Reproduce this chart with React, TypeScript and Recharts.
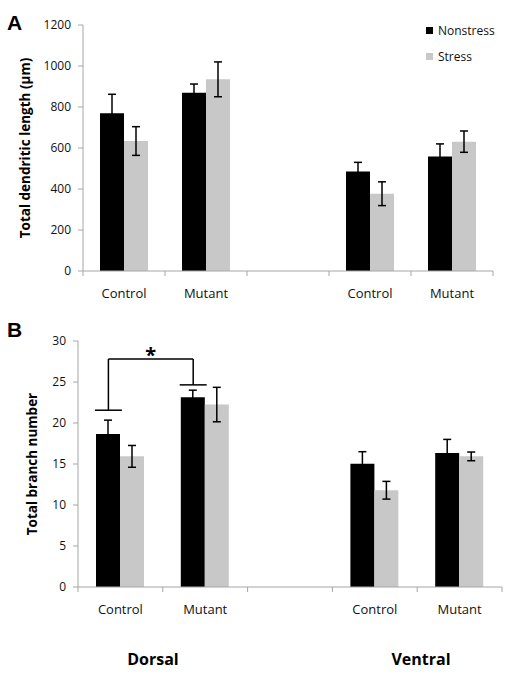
import { BarChart, Bar, XAxis, YAxis, ErrorBar, Legend, ReferenceLine } from 'recharts'

const categories = ['Control', 'Mutant', '', 'Control', 'Mutant']

// panel A: total dendritic length (μm)
const lengthNonstress = [769, 870, null, 485, 559]
const lengthNonstressErr = [93, 42, null, 45, 61]
const lengthStress = [634, 935, null, 377, 631]
const lengthStressErr = [70, 85, null, 58, 52]
const lengthTicks = [0, 200, 400, 600, 800, 1000, 1200]

// panel B: total branch number
const branchNonstress = [18.65, 23.15, null, 15.04, 16.34]
const branchNonstressErr = [1.7, 0.85, null, 1.46, 1.66]
const branchStress = [15.93, 22.25, null, 11.8, 15.93]
const branchStressErr = [1.33, 2.1, null, 1.08, 0.53]
const branchTicks = [0, 5, 10, 15, 20, 25, 30]

// significance bracket (dorsal control vs dorsal mutant, nonstress)
const bracketLeftY = 21.56
const bracketRightY = 24.65
const bracketTopY = 27.8

const FONT = '"Open Sans", "DejaVu Sans", sans-serif'
const AXIS = '#a6a6a6'
const BLACK = '#000000'
const GRAY = '#c8c8c8'
const BAR = 24

const lengthData = categories.map((cat, i) => ({
  cat,
  ns: lengthNonstress[i],
  nsErr: lengthNonstressErr[i],
  s: lengthStress[i],
  sErr: lengthStressErr[i],
}))

// pos = category centre on a 0..5 numeric scale, used by the bracket
const branchData = categories.map((cat, i) => ({
  cat,
  pos: i + 0.5,
  ns: branchNonstress[i],
  nsErr: branchNonstressErr[i],
  s: branchStress[i],
  sErr: branchStressErr[i],
}))

function makeTick(catW: number) {
  const last = categories.length - 1
  return (props: any) => {
    const { x, y, payload, index } = props
    const half = catW / 2
    return (
      <g>
        <line x1={x - half} y1={y - 5} x2={x - half} y2={y} stroke={AXIS} />
        {index === last && <line x1={x + half} y1={y - 5} x2={x + half} y2={y} stroke={AXIS} />}
        <text x={x} y={y + 21.5} textAnchor="middle" fontSize={13} fill="#111" fontFamily={FONT}>
          {payload.value}
        </text>
      </g>
    )
  }
}

function LegendBox(props: any) {
  const items = props.payload || []
  return (
    <div style={{ fontFamily: FONT, fontSize: 12, color: '#111', textAlign: 'left' }}>
      {items.map((it: any) => (
        <div key={it.value} style={{ display: 'flex', alignItems: 'center', height: 26 }}>
          <span style={{ width: 7, height: 7, background: it.color, marginRight: 5 }} />
          <span>{it.value}</span>
        </div>
      ))}
    </div>
  )
}

const yTick = { fontSize: 12, fill: '#111', fontFamily: FONT }
const yLabelStyle = { textAnchor: 'middle', fontWeight: 700, fontSize: 13.5, fill: '#000', fontFamily: FONT } as any

// plot widths: A 83..493, B 78..502
const catA = 410 / 5
const catB = 424 / 5
const nsCenter = 0.5 - BAR / 2 / catB
const capHalf = 13.5 / catB

export default function App() {
  return (
    <div style={{ position: 'absolute', left: 0, top: 0, width: 512, height: 683, background: '#fff', fontFamily: FONT }}>
      <div style={{ position: 'absolute', left: 0, top: 0 }}>
        <BarChart width={512} height={300} data={lengthData} margin={{ top: 25, right: 19, bottom: 4, left: 0 }} barGap={0} barSize={BAR}>
          <XAxis
            dataKey="cat"
            interval={0}
            height={25}
            stroke={AXIS}
            tickLine={false}
            tickSize={5}
            tickMargin={0}
            tick={makeTick(catA)}
          />
          <YAxis
            width={83}
            domain={[0, 1200]}
            ticks={lengthTicks}
            stroke={AXIS}
            tickSize={5}
            tickMargin={7}
            tick={yTick}
            label={{ value: 'Total dendritic length (μm)', angle: -90, position: 'insideLeft', offset: 25, style: yLabelStyle }}
          />
          <Legend
            layout="horizontal"
            verticalAlign="middle"
            align="center"
            wrapperStyle={{ top: 17, left: 426, width: 90 }}
            content={LegendBox}
          />
          <Bar dataKey="ns" name="Nonstress" fill={BLACK} isAnimationActive={false}>
            <ErrorBar dataKey="nsErr" width={4} stroke={BLACK} strokeWidth={1.5} />
          </Bar>
          <Bar dataKey="s" name="Stress" fill={GRAY} isAnimationActive={false}>
            <ErrorBar dataKey="sErr" width={4} stroke={BLACK} strokeWidth={1.5} />
          </Bar>
        </BarChart>
      </div>
      <div style={{ position: 'absolute', left: 0, top: 310 }}>
        <BarChart width={512} height={310} data={branchData} margin={{ top: 31, right: 10, bottom: 8, left: 0 }} barGap={0} barSize={BAR}>
          <XAxis
            dataKey="cat"
            interval={0}
            height={25}
            stroke={AXIS}
            tickLine={false}
            tickSize={5}
            tickMargin={0}
            tick={makeTick(catB)}
          />
          <XAxis xAxisId="num" dataKey="pos" type="number" domain={[0, 5]} allowDataOverflow hide />
          <YAxis
            width={78}
            domain={[0, 30]}
            ticks={branchTicks}
            stroke={AXIS}
            tickSize={5}
            tickMargin={7}
            tick={yTick}
            label={{ value: 'Total branch number', angle: -90, position: 'insideLeft', offset: 32, style: yLabelStyle }}
          />
          <Bar dataKey="ns" name="Nonstress" fill={BLACK} isAnimationActive={false}>
            <ErrorBar dataKey="nsErr" width={4} stroke={BLACK} strokeWidth={1.5} />
          </Bar>
          <Bar dataKey="s" name="Stress" fill={GRAY} isAnimationActive={false}>
            <ErrorBar dataKey="sErr" width={4} stroke={BLACK} strokeWidth={1.5} />
          </Bar>
          <ReferenceLine
            xAxisId="num"
            segment={[{ x: nsCenter - capHalf, y: bracketLeftY }, { x: nsCenter + capHalf, y: bracketLeftY }]}
            stroke={BLACK}
            strokeWidth={1.5}
          />
          <ReferenceLine
            xAxisId="num"
            segment={[{ x: 1 + nsCenter - capHalf, y: bracketRightY }, { x: 1 + nsCenter + capHalf, y: bracketRightY }]}
            stroke={BLACK}
            strokeWidth={1.5}
          />
          <ReferenceLine
            xAxisId="num"
            segment={[{ x: nsCenter, y: bracketLeftY }, { x: nsCenter, y: bracketTopY }]}
            stroke={BLACK}
            strokeWidth={1.5}
          />
          <ReferenceLine
            xAxisId="num"
            segment={[{ x: 1 + nsCenter, y: bracketRightY }, { x: 1 + nsCenter, y: bracketTopY }]}
            stroke={BLACK}
            strokeWidth={1.5}
          />
          <ReferenceLine
            xAxisId="num"
            segment={[{ x: nsCenter, y: bracketTopY }, { x: 1 + nsCenter, y: bracketTopY }]}
            stroke={BLACK}
            strokeWidth={1.5}
            label={{ value: '*', position: 'top', offset: -3, fontSize: 20, fontWeight: 700, fill: '#000', fontFamily: FONT }}
          />
        </BarChart>
      </div>
      <svg width={512} height={683} style={{ position: 'absolute', left: 0, top: 0, pointerEvents: 'none' }}>
        <text x={7} y={30} fontSize={21} fontWeight={700} fontFamily='"Liberation Sans", Arial, sans-serif' fill="#000">A</text>
        <text x={7} y={337} fontSize={21} fontWeight={700} fontFamily='"Liberation Sans", Arial, sans-serif' fill="#000">B</text>
        <text x={153} y={665} textAnchor="middle" fontSize={16} fontWeight={700} fontFamily={FONT} fill="#000">Dorsal</text>
        <text x={421} y={665} textAnchor="middle" fontSize={16} fontWeight={700} fontFamily={FONT} fill="#000">Ventral</text>
      </svg>
    </div>
  )
}
